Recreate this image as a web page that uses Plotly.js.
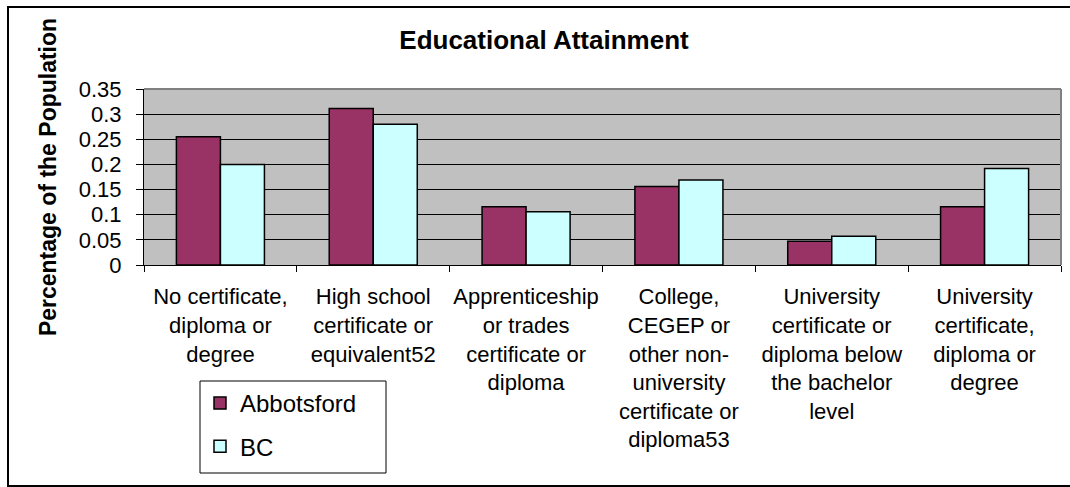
<!DOCTYPE html>
<html>
<head>
<meta charset="utf-8">
<script src="https://cdn.plot.ly/plotly-3.0.1.min.js"></script>
<style>
  html, body { margin: 0; padding: 0; background: #ffffff; }
  #chart { width: 1070px; height: 487px; }
</style>
</head>
<body>
<div id="chart"></div>
<script>
const categories = [
  "No certificate,<br>diploma or<br>degree",
  "High school<br>certificate or<br>equivalent52",
  "Apprenticeship<br>or trades<br>certificate or<br>diploma",
  "College,<br>CEGEP or<br>other non-<br>university<br>certificate or<br>diploma53",
  "University<br>certificate or<br>diploma below<br>the bachelor<br>level",
  "University<br>certificate,<br>diploma or<br>degree"
];
const abbotsford = [0.255, 0.311, 0.116, 0.156, 0.047, 0.116];
const bc = [0.200, 0.280, 0.106, 0.169, 0.057, 0.192];
const yTicks = [0, 0.05, 0.1, 0.15, 0.2, 0.25, 0.3, 0.35];

const FONT = "Arial, 'Liberation Sans', sans-serif";

const traces = [
  {
    type: "bar", name: "Abbotsford", x: categories, y: abbotsford,
    marker: { color: "#993366", line: { color: "#000000", width: 1.5 } },
    legendgroup: "a"
  },
  {
    type: "bar", name: "BC", x: categories, y: bc,
    marker: { color: "#CCFFFF", line: { color: "#000000", width: 1.5 } },
    legendgroup: "b"
  }
];

const L = 144, R = 9, T = 89, B = 222;
const W = 1070, H = 487;
const pw = W - L - R, ph = H - T - B;
const px = v => (v - L) / pw;
const py = v => (H - B - v) / ph;

const layout = {
  width: W, height: H,
  margin: { l: L, r: R, t: T, b: B, pad: 0 },
  paper_bgcolor: "#ffffff",
  plot_bgcolor: "#C0C0C0",
  font: { family: FONT, size: 22, color: "#000000" },
  title: {
    text: "<b>Educational Attainment</b>",
    font: { family: FONT, size: 26, color: "#000000" },
    xref: "container", yref: "container",
    x: 544 / W, y: 1 - 40 / H, xanchor: "center", yanchor: "middle"
  },
  barmode: "group",
  bargap: 0.424,
  bargroupgap: 0,
  showlegend: true,
  legend: {
    x: px(200), y: py(381), xanchor: "left", yanchor: "top",
    bgcolor: "rgba(0,0,0,0)", borderwidth: 0,
    font: { family: FONT, size: 24, color: "#000000" },
    traceorder: "grouped",
    tracegroupgap: 9,
    itemwidth: 30
  },
  xaxis: {
    type: "category",
    tickson: "boundaries",
    ticks: "outside", ticklen: 6, tickcolor: "#000000", tickwidth: 1,
    showline: true, linecolor: "#000000", linewidth: 1,
    showgrid: false,
    tickangle: 0,
    ticklabelstandoff: 12,
    tickfont: { family: FONT, size: 22, color: "#000000" },
    fixedrange: true
  },
  yaxis: {
    range: [0, 0.35],
    tickvals: yTicks,
    ticktext: yTicks.map(v => String(v)),
    ticks: "outside", ticklen: 7, tickcolor: "#000000", tickwidth: 1,
    showline: true, linecolor: "#000000", linewidth: 1,
    showgrid: true, gridcolor: "#000000", gridwidth: 1,
    zeroline: false,
    ticklabelstandoff: 10,
    tickfont: { family: FONT, size: 22, color: "#000000" },
    title: {
      text: "<b>Percentage of the Population</b>",
      font: { family: FONT, size: 23, color: "#000000" },
      standoff: 15
    },
    fixedrange: true
  },
  shapes: [
    { type: "line", xref: "paper", yref: "paper", x0: 0, x1: 1, y0: 1, y1: 1,
      line: { color: "#808080", width: 2 } },
    { type: "line", xref: "paper", yref: "paper", x0: 1, x1: 1, y0: 0, y1: 1,
      line: { color: "#808080", width: 2 } },
    { type: "rect", xref: "paper", yref: "paper",
      x0: px(8), x1: px(1075), y0: py(486), y1: py(7),
      line: { color: "#000000", width: 2 }, fillcolor: "rgba(0,0,0,0)" },
    { type: "rect", xref: "paper", yref: "paper", layer: "above",
      x0: px(200), x1: px(386), y0: py(473), y1: py(381),
      line: { color: "#000000", width: 1 }, fillcolor: "#ffffff" }
  ]
};

Plotly.newPlot("chart", traces, layout, { displayModeBar: false, staticPlot: true });
</script>
</body>
</html>
